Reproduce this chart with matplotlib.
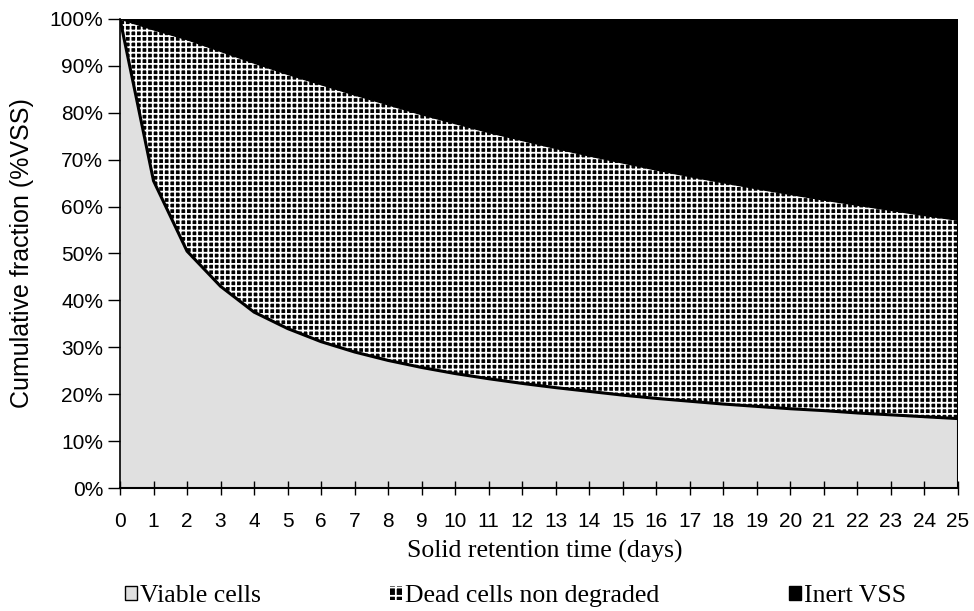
import numpy as np
import matplotlib

matplotlib.use("Agg")
import matplotlib.pyplot as plt
from matplotlib.patches import Patch
from matplotlib.ticker import PercentFormatter

# Solid retention time (days)
srt = list(range(0, 26))

# cumulative fractions (% VSS)
viable = [100, 65.5, 50.5, 43, 37.5, 34, 31.2, 29, 27.2, 25.7, 24.4, 23.3, 22.3,
          21.4, 20.6, 19.8, 19.1, 18.5, 17.9, 17.4, 16.9, 16.5, 16.0, 15.6, 15.2, 14.8]
viable_plus_dead = [100, 97.7, 95.6, 93.1, 90.6, 88.2, 86.0, 83.8, 81.7, 79.6, 77.7,
                    75.8, 74.1, 72.4, 70.8, 69.3, 67.8, 66.4, 65.1, 63.8, 62.6,
                    61.4, 60.3, 59.2, 58.1, 57.1]
total = [100] * 26

legend_labels = ["Viable cells", "Dead cells non degraded", "Inert VSS"]

sans = ["Liberation Sans", "DejaVu Sans"]
serif = ["Liberation Serif", "DejaVu Serif"]
plt.rcParams["hatch.linewidth"] = 1.3

fig = plt.figure(figsize=(9.74, 6.11), dpi=100)
ax = fig.add_axes([120 / 974, 1 - 488 / 611, 838 / 974, 469 / 611])

# stacked areas
ax.fill_between(srt, 0, viable, facecolor="#e0e0e0", linewidth=0)
# dotted pattern: black fill cut by a fine white grid
ax.fill_between(srt, viable, viable_plus_dead, facecolor="black", edgecolor="white",
                hatch="+++", linewidth=0)
ax.fill_between(srt, viable_plus_dead, total, facecolor="black", linewidth=0)

ax.plot(srt, viable_plus_dead, color="black", linewidth=1.0)
ax.plot(srt, viable, color="black", linewidth=2.2)
ax.vlines(srt[-1], 0, total[-1], color="black", linewidth=1.5)

ax.set_xlim(0, 25)
ax.set_ylim(0, 100)
ax.set_xticks(srt)
ax.set_yticks(range(0, 101, 10))
ax.yaxis.set_major_formatter(PercentFormatter(decimals=0))
ax.tick_params(axis="x", direction="inout", length=10, width=1, pad=12)
ax.tick_params(axis="y", direction="out", length=9, width=1, pad=3)
for lab in ax.get_xticklabels() + ax.get_yticklabels():
    lab.set_family(sans)
    lab.set_fontsize(15)
for s in ["top", "right"]:
    ax.spines[s].set_visible(False)
ax.spines["left"].set_linewidth(1.2)
ax.spines["bottom"].set_linewidth(1.5)

ax.set_ylabel("Cumulative fraction (%VSS)", family=sans, fontsize=18, va="center")
ax.yaxis.set_label_coords((22 - 120) / 838, 0.5)
ax.set_xlabel("Solid retention time (days)", family=serif, fontsize=18.5, va="center")
ax.xaxis.set_label_coords(0.507, (488 - 551) / 469)

handles = [
    Patch(facecolor="#e0e0e0", edgecolor="black", linewidth=1.0, label=legend_labels[0]),
    Patch(facecolor="black", edgecolor="white", hatch="++", linewidth=0, label=legend_labels[1]),
    Patch(facecolor="black", edgecolor="black", label=legend_labels[2]),
]
x_pos = [125, 390, 789]
for h, xp in zip(handles, x_pos):
    fig.legend(handles=[h], loc="center left", bbox_to_anchor=(xp / 974, 1 - 596 / 611),
               frameon=False, handlelength=0.45, handleheight=0.45, handletextpad=0.15,
               borderaxespad=0, borderpad=0, prop={"family": serif, "size": 18.5})

fig.savefig("out.png", dpi=100)
